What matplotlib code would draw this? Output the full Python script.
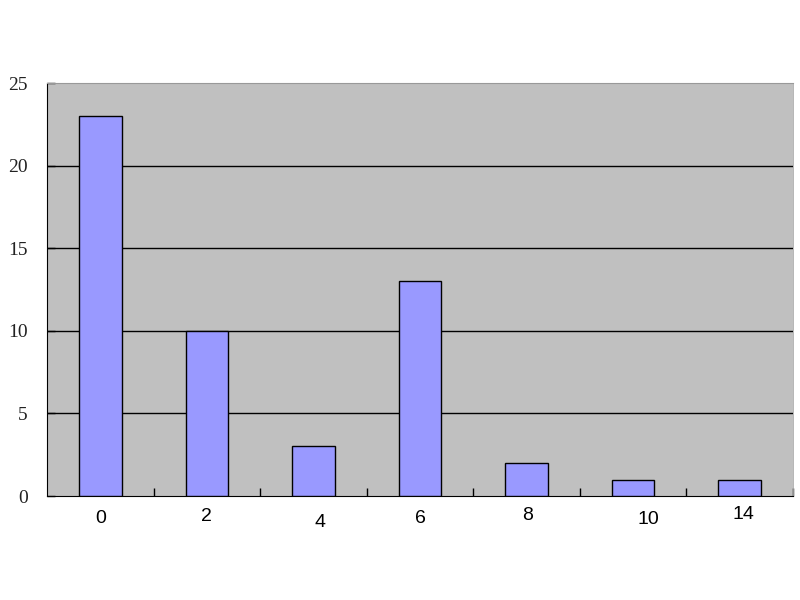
import matplotlib
matplotlib.use("Agg")
import matplotlib.pyplot as plt
import numpy as np

# chart data
categories = ["0", "2", "4", "6", "8", "10", "14"]
counts = [23, 10, 3, 13, 2, 1, 1]
y_ticks = [0, 5, 10, 15, 20, 25]

# small per-label nudges (points) seen on the original x labels
label_dx = [0, 0, 5, 0, 1, 11, 3]
label_dy = [0, 1, -3, 0, 2, -1, 3]

fig = plt.figure(figsize=(8, 6), dpi=100)
ax = fig.add_axes([0.05875, 0.1733, 0.9325, 0.6883])
ax.set_facecolor("#C0C0C0")

x = np.arange(len(categories))
ax.bar(x, counts, width=0.4, color="#9999FF", edgecolor="black", linewidth=1, zorder=3)

ax.set_xlim(-0.5, len(categories) - 0.5)
ax.set_ylim(0, 25)

# grid lines (the top edge at 25 is drawn by the grey border instead)
for v in y_ticks[1:-1]:
    ax.axhline(v, color="black", linewidth=1, zorder=1)

ax.set_yticks(y_ticks)
ax.set_yticklabels([str(v) for v in y_ticks], fontsize=14, family="Liberation Serif")
ax.tick_params(axis="y", direction="in", length=6, width=1, pad=14, colors="black")
for lbl in ax.get_yticklabels():
    lbl.set_color("#222222")

# category boundary ticks, labels drawn separately
ax.set_xticks(np.arange(len(categories)) + 0.5)
ax.set_xticklabels([])
ax.tick_params(axis="x", direction="in", length=6, width=1)

for i, cat in enumerate(categories):
    ax.annotate(cat, xy=(i, 0), xycoords=("data", "axes fraction"),
                xytext=(label_dx[i], -16 + label_dy[i]), textcoords="offset points",
                ha="center", va="center", fontsize=14, family="Liberation Sans",
                color="black")

ax.spines["left"].set_color("black")
ax.spines["bottom"].set_color("black")
ax.spines["top"].set_color("#999999")
ax.spines["right"].set_color("#AAAAAA")
ax.spines["right"].set_linewidth(0.6)

fig.savefig("out.png", dpi=100)
